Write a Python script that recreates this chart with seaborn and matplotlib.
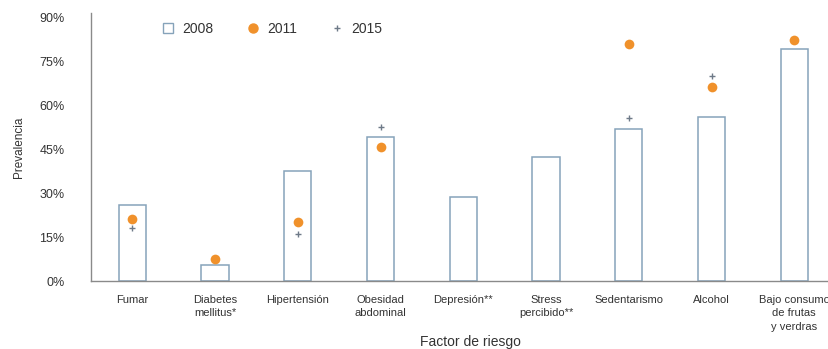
import numpy as np
import pandas as pd
import matplotlib
matplotlib.use("Agg")
import matplotlib.pyplot as plt
import seaborn as sns
from matplotlib.lines import Line2D
from matplotlib.ticker import FuncFormatter

# Risk factors and prevalence (%) by survey year
categories = ["Fumar", "Diabetes\nmellitus*", "Hipertensión", "Obesidad\nabdominal",
              "Depresión**", "Stress\npercibido**", "Sedentarismo", "Alcohol",
              "Bajo consumo\nde frutas\ny verdras"]
prev_2008 = [26.0, 5.6, 37.5, 49.1, 28.7, 42.4, 51.9, 55.9, 79.1]
prev_2011 = [21.0, 7.5, 20.0, 45.8, np.nan, np.nan, 80.8, 66.0, 82.2]
prev_2015 = [18.0, np.nan, 16.0, 52.6, np.nan, np.nan, 55.7, 69.9, np.nan]
y_ticks = [0, 15, 30, 45, 60, 75, 90]
series_labels = ["2008", "2011", "2015"]

bar_edge = "#86a3ba"
orange = "#f0912b"
plus_col = "#6e7a88"
text_col = "#333333"
spine_col = "#8a8a8a"

sns.set_theme(style="white")
plt.rcParams["font.family"] = ["Liberation Sans", "DejaVu Sans"]

df = pd.DataFrame({"factor": categories, "p2008": prev_2008,
                   "p2011": prev_2011, "p2015": prev_2015})

fig = plt.figure(figsize=(8.29, 3.49), dpi=100)
ax = fig.add_axes([91 / 829, 68 / 349, 1 - 91 / 829, 268 / 349])

sns.barplot(data=df, x="factor", y="p2008", order=categories, color="white",
            edgecolor=bar_edge, linewidth=1.1, width=0.33, errorbar=None,
            saturation=1, ax=ax)
sns.stripplot(data=df, x="factor", y="p2011", order=categories, jitter=False,
              color=orange, size=7, linewidth=0, ax=ax, zorder=4)
sns.stripplot(data=df, x="factor", y="p2015", order=categories, jitter=False,
              color=plus_col, marker="+", size=5, linewidth=1, ax=ax, zorder=4)

ax.set_xlim(-0.5, 8.42)
ax.set_ylim(0, 91.4)
ax.set_yticks(y_ticks)
ax.yaxis.set_major_formatter(FuncFormatter(lambda v, _: f"{v:.0f}%"))

for side in ["top", "right"]:
    ax.spines[side].set_visible(False)
for side in ["left", "bottom"]:
    ax.spines[side].set_color(spine_col)
    ax.spines[side].set_linewidth(1.0)

ax.tick_params(axis="x", length=0, pad=10, labelsize=8, labelcolor=text_col)
ax.tick_params(axis="y", length=0, pad=19, labelsize=9, labelcolor=text_col)
for lbl in ax.get_xticklabels():
    lbl.set_linespacing(1.45)

ax.set_ylabel("Prevalencia", fontsize=8.5, color=text_col)
ax.yaxis.set_label_coords(-0.089, 0.5)
ax.set_xlabel("Factor de riesgo", fontsize=10, color=text_col)
ax.xaxis.set_label_coords(0.514, -0.2)

handles = [
    Line2D([], [], marker="s", ls="", mfc="white", mec=bar_edge, mew=1.0, ms=6.5),
    Line2D([], [], marker="o", ls="", mfc=orange, mec=orange, ms=6.5),
    Line2D([], [], marker="+", ls="", color=plus_col, mew=1.0, ms=5),
]
fig.legend(handles, series_labels, loc="center left",
           bbox_to_anchor=(161 / 829, 1 - 29 / 349), ncol=3, frameon=False,
           fontsize=10, handlelength=1.0, handletextpad=0.5, columnspacing=2.4,
           borderpad=0, borderaxespad=0, labelcolor=text_col)

fig.savefig("out.png", dpi=100)
